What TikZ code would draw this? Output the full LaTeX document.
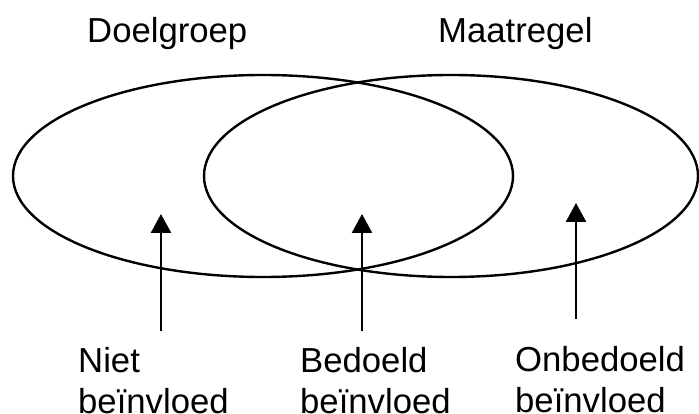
\documentclass[tikz,border=0pt]{standalone}
\usepackage{fontspec}
\setmainfont{Liberation Sans}
\usetikzlibrary{shapes.geometric,arrows.meta}
\begin{document}
\begin{tikzpicture}[x=1pt,y=-1pt,
  set/.style={draw, ellipse, line width=2.4pt, inner sep=0pt, outer sep=0pt},
  lab/.style={anchor=base west, inner sep=0pt, font=\fontsize{34.7pt}{41pt}\selectfont},
  arr/.style={line width=2.6pt, -{Triangle[width=20pt,length=19pt]}}]
\useasboundingbox (0,0) rectangle (699,414);
\node[set, minimum width=500pt, minimum height=202pt] (doel) at (263,176) {};
\node[set, minimum width=494pt, minimum height=202pt] (maat) at (451,176) {};
\node[lab] (tdoel) at (87,43) {Doelgroep};
\node[lab] (tmaat) at (438,43) {Maatregel};
\node[lab] (niet1) at (78,372) {Niet};
\node[lab] (niet2) at (78,413) {beïnvloed};
\node[lab] (bed1) at (300,372) {Bedoeld};
\node[lab] (bed2) at (300,413) {beïnvloed};
\node[lab] (onb1) at (515,371) {Onbedoeld};
\node[lab] (onb2) at (515,412) {beïnvloed};
\coordinate (a1s) at (161,331);
\coordinate (a1e) at (161,214);
\coordinate (a2s) at (362,331);
\coordinate (a2e) at (362,214);
\coordinate (a3s) at (576,319);
\coordinate (a3e) at (576,203);
\draw[arr] (a1s) -- (a1e);
\draw[arr] (a2s) -- (a2e);
\draw[arr] (a3s) -- (a3e);
\end{tikzpicture}
\end{document}
